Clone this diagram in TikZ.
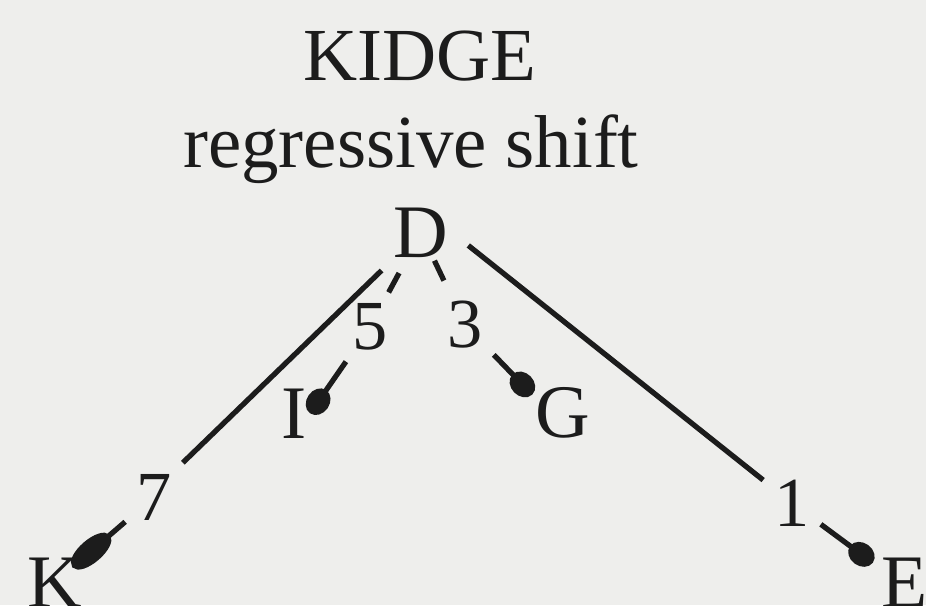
\documentclass[tikz,border=0pt]{standalone}
\usepackage{fontspec}
\setmainfont{Liberation Serif}
\usepackage{xcolor}
\usetikzlibrary{arrows.meta}
\definecolor{paper}{RGB}{238,238,236}
\definecolor{ink}{RGB}{28,28,28}

\begin{document}
\begin{tikzpicture}[x=0.01cm, y=-0.01cm,
  every node/.style={font=\fontsize{21.5}{25}\selectfont, text=ink},
  headline/.style={anchor=base, font=\fontsize{21.3}{25}\selectfont},
  leaf/.style={anchor=base, inner sep=1pt, outer sep=0pt},
  rank/.style={inner sep=3pt, font=\fontsize{20}{24}\selectfont},
  link/.style={draw=ink, line width=1.5pt},
  dot/.style={link, -{Circle[length=8pt,width=6.5pt]}},
  blob/.style={link, -{Circle[length=14pt,width=6.5pt]}}]
  \fill[paper] (0,0) rectangle (926,605);
  \useasboundingbox (0,0) rectangle (926,605);
  % heading
  \node[headline] (name) at (420,80) {KIDGE};
  \node[headline] (shift) at (411,167) {regressive shift};
  % letters
  \node[leaf] (D) at (421,257) {D};
  \node[leaf] (I) at (294,438) {I};
  \node[leaf] (G) at (563,437) {G};
  \node[leaf] (K) at (55,607) {K};
  \node[leaf] (E) at (905,607) {E};
  % step numbers
  \node[rank] (n7) at (154,497) {7};
  \node[rank] (n5) at (370,327) {5};
  \node[rank] (n3) at (465,325) {3};
  \node[rank] (n1) at (792,503) {1};
  % links
  \draw[link, shorten <=4pt] (D) -- (n7.north east);
  \draw[blob, shorten >=-5pt] (n7) -- (K);
  \draw[link, shorten <=4pt] (D) -- (n5);
  \draw[dot] (n5) -- (I.east);
  \draw[link, shorten >=3pt] (D) -- (n3);
  \draw[dot] (n3) -- (G.150);
  \draw[link, shorten <=6pt] (D.east) -- (n1);
  \draw[dot, shorten >=2pt] (n1) -- (E.150);
\end{tikzpicture}
\end{document}
